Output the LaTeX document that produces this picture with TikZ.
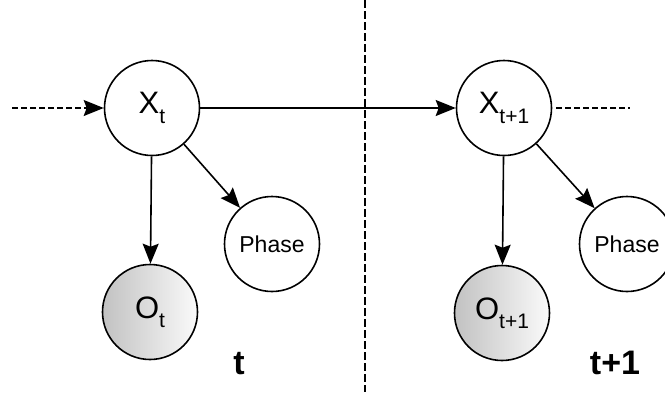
\documentclass[tikz,border=0pt]{standalone}
\usepackage{fontspec}
\setmainfont{Liberation Sans}
\usetikzlibrary{arrows.meta}
\begin{document}
\begin{tikzpicture}[x=1pt,y=-1pt,
  state/.style={circle,draw,line width=1.6pt,minimum size=95pt,inner sep=0pt,fill=white},
  obs/.style={state,left color=black!24,right color=black!2},
  phase/.style={state,font=\fontsize{23}{23}\selectfont},
  tip/.style={-{Stealth[length=20pt,width=16pt,inset=3pt]}},
  arr/.style={line width=1.6pt,tip},
  dsh/.style={line width=1.5pt,dash pattern=on 6pt off 3pt},
  divider/.style={line width=1.3pt,dash pattern=on 8pt off 3pt},
  slice/.style={font=\fontsize{34}{34}\selectfont\bfseries,anchor=base}]
\clip (0,0) rectangle (665,392);
\useasboundingbox (0,0) rectangle (665,392);
% divider
\coordinate (dtop) at (365,0);
\coordinate (dbot) at (365,392);
\draw[divider] (dtop) -- (dbot);
% nodes
\node[state] (Xt) at (152,108) {\fontsize{31}{31}\selectfont X\raisebox{-10pt}{\fontsize{21}{21}\selectfont t}};
\node[state] (Xt1) at (504,108) {\fontsize{31}{31}\selectfont X\raisebox{-10pt}{\fontsize{21}{21}\selectfont t+1}};
\node[obs] (Ot) at (150,312) {\fontsize{31}{31}\selectfont O\raisebox{-9pt}{\fontsize{21}{21}\selectfont t}};
\node[obs] (Ot1) at (502,313) {\fontsize{31}{31}\selectfont O\raisebox{-9pt}{\fontsize{21}{21}\selectfont t+1}};
\node[phase] (Pt) at (272,244) {Phase};
\node[phase] (Pt1) at (627,244) {Phase};
\node[slice] (lt) at (239,374) {t};
\node[slice] (lt1) at (615,374) {t+1};
% connectors
\coordinate (inL) at (12,108);
\coordinate (outR) at (630,108);
\draw[dsh,tip] (inL) -- (Xt);
\draw[dsh,shorten <=4pt] (Xt1) -- (outR);
\draw[arr] (Xt) -- (Xt1);
\draw[arr] (Xt) -- (Ot);
\draw[arr] (Xt) -- (Pt);
\draw[arr] (Xt1) -- (Ot1);
\draw[arr] (Xt1) -- (Pt1);
\end{tikzpicture}
\end{document}
